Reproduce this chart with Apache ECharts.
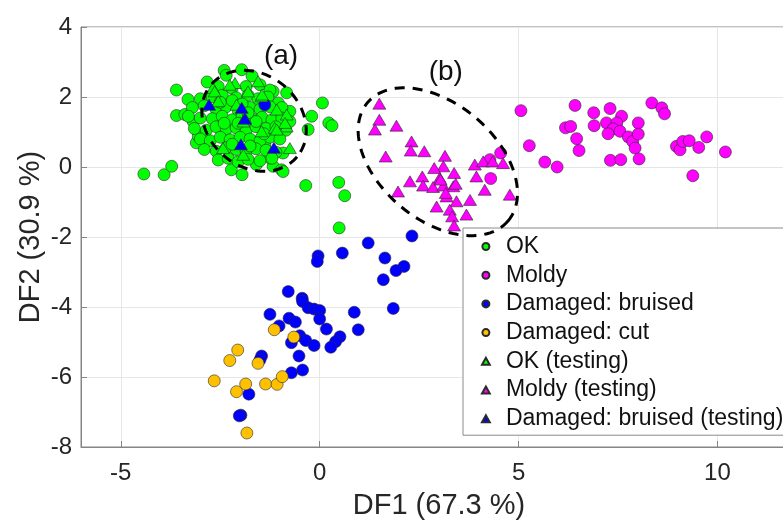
<!DOCTYPE html>
<html>
<head>
<meta charset="utf-8">
<script src="https://cdn.jsdelivr.net/npm/echarts@6/dist/echarts.min.js"></script>
<style>
  html, body { margin: 0; padding: 0; overflow: hidden; background: #fff; }
  #chart { width: 840px; height: 525px; }
</style>
</head>
<body>
<div id="chart"></div>
<script>
// Discriminant scores [DF1, DF2] per class
const okTrain = [
  [-4.42,-0.20],[-3.91,-0.22],[-3.72,0.02],[-3.60,2.20],[-3.60,1.47],[-3.31,1.93],[-3.39,1.50],
  [-3.18,1.30],[-3.10,0.69],[-3.05,0.88],[-2.83,2.43],[-2.40,2.76],[-1.96,2.78],[-2.22,-0.08],
  [-1.95,-0.22],[-1.17,0.02],[-0.96,-0.08],[-1.17,2.16],[-1.04,1.83],[-0.83,2.12],[-0.75,1.59],
  [-0.92,0.40],[-1.38,0.64],[-1.59,0.07],[-1.25,0.26],[-0.92,-0.13],[-0.29,1.07],[-0.20,1.45],
  [0.07,1.83],[0.23,1.26],[0.31,1.18],[-0.35,-0.53],[0.48,-0.44],[0.63,-0.82],[0.49,-1.74],
  [-2.35,2.62],[-1.70,2.60],[-2.55,2.30],[-2.20,2.25],[-1.85,2.30],[-1.50,2.35],[-1.25,2.20],
  [-3.00,1.95],[-2.70,2.00],[-2.45,2.05],[-2.10,1.98],[-1.80,2.05],[-1.55,1.95],[-1.30,2.00],
  [-3.20,1.70],[-2.90,1.75],[-2.60,1.65],[-2.35,1.72],[-2.05,1.62],[-1.75,1.70],[-1.50,1.65],
  [-1.25,1.72],[-0.95,1.70],[-3.30,1.45],[-3.00,1.40],[-2.70,1.38],[-2.45,1.45],[-2.20,1.35],
  [-1.95,1.45],[-1.70,1.38],[-1.45,1.42],[-1.20,1.35],[-0.95,1.40],[-0.75,1.30],[-3.15,1.10],
  [-2.85,1.05],[-2.60,1.15],[-2.35,1.08],[-2.10,1.12],[-1.85,1.05],[-1.60,1.15],[-1.35,1.10],
  [-1.10,1.15],[-0.85,1.05],[-3.00,0.80],[-2.75,0.75],[-2.50,0.85],[-2.25,0.78],[-2.00,0.85],
  [-1.75,0.80],[-1.50,0.75],[-1.25,0.85],[-1.00,0.80],[-2.90,0.50],[-2.60,0.45],[-2.35,0.55],
  [-2.10,0.50],[-1.85,0.45],[-1.60,0.52],[-1.35,0.48],[-1.10,0.42],[-2.55,0.20],[-2.30,0.25],
  [-2.05,0.15],[-1.80,0.22],[-1.50,0.18],[-1.20,0.25],[-2.20,1.90],[-1.95,1.80],[-2.40,1.25],
  [-1.60,1.30],[-2.20,0.65],[-1.75,0.60],[-1.40,0.95],[-2.05,1.25],[-1.80,1.55],[-2.50,1.85]
];
const moldyTrain = [
  [4.28,0.21],[4.55,0.40],[4.30,-0.33],[5.06,1.61],[5.27,0.61],[5.66,0.14],[5.97,0.00],
  [6.42,1.76],[6.18,1.12],[6.31,1.16],[6.46,0.81],[6.52,0.47],[6.89,1.55],[6.90,1.18],
  [7.30,1.67],[7.59,1.45],[7.21,1.26],[7.47,1.26],[7.38,1.09],[7.25,0.95],[7.55,1.02],
  [7.76,0.86],[7.87,0.73],[7.93,0.54],[8.01,1.26],[8.01,0.94],[7.31,0.19],[7.57,0.21],
  [8.03,0.23],[8.35,1.83],[8.60,1.69],[8.67,1.52],[8.97,0.59],[9.06,0.49],[9.13,0.73],
  [9.29,0.75],[9.53,0.56],[9.73,0.86],[10.20,0.43],[9.38,-0.25]
];
const bruisedTrain = [
  [-1.38,1.78],[2.32,-1.97],[1.22,-2.17],[0.57,-2.46],[-0.04,-2.54],[-0.06,-2.70],[1.64,-2.60],
  [2.12,-2.84],[1.92,-2.96],[1.60,-3.22],[-0.79,-3.56],[-0.44,-3.75],[-0.43,-3.84],[-0.29,-4.02],
  [-0.14,-4.06],[0.00,-4.10],[-1.25,-4.21],[0.87,-4.15],[1.85,-4.04],[-0.77,-4.32],[-0.61,-4.43],
  [0.00,-4.34],[0.17,-4.63],[-1.02,-4.54],[0.97,-4.65],[0.51,-4.85],[0.40,-4.99],[0.28,-5.15],
  [-0.50,-4.82],[-0.35,-4.96],[-0.14,-5.10],[-0.71,-5.02],[-0.52,-5.40],[-1.46,-5.40],[-1.50,-5.51],
  [-0.71,-5.88],[-0.43,-5.80],[-1.78,-6.49],[-1.98,-7.09],[-2.02,-7.11]
];
const cutTrain = [
  [-1.14,-4.65],[-0.65,-4.86],[-2.06,-5.23],[-2.26,-5.53],[-1.55,-5.61],[-2.65,-6.11],
  [-1.86,-6.20],[-2.09,-6.42],[-1.36,-6.20],[-1.07,-6.21],[-0.94,-5.99],[-1.83,-7.60]
];
const okTest = [
  [-2.68,2.26],[-2.13,2.40],[-1.55,2.45],[-1.08,1.64],[-0.83,1.50],[-1.13,1.12],[-0.83,1.16],
  [-1.92,0.35],[-1.88,1.40],[-0.75,0.54],[-1.46,2.02],[-2.09,1.78],[-1.80,2.16],[-2.26,2.35],
  [-2.64,2.16],[-2.55,1.88],[-1.92,1.30],[-1.45,2.07],[-0.87,1.26],[-2.43,0.54],[-1.08,1.07],
  [-1.46,1.02]
];
const moldyTest = [
  [1.50,1.81],[1.50,1.35],[1.39,1.07],[1.93,1.18],[2.31,0.73],[2.29,0.47],[2.63,0.45],
  [1.66,0.30],[3.15,0.32],[3.11,0.02],[2.88,-0.03],[3.38,-0.17],[3.90,0.07],[4.11,0.16],
  [4.35,0.16],[4.61,0.11],[3.94,-0.27],[2.58,-0.27],[3.02,-0.31],[2.27,-0.41],[2.60,-0.53],
  [2.85,-0.57],[3.11,-0.53],[3.36,-0.55],[3.42,-0.48],[1.97,-0.70],[4.15,-0.65],[4.78,-0.79],
  [3.19,-0.84],[3.44,-0.98],[3.78,-0.94],[2.94,-1.13],[3.27,-1.22],[3.69,-1.36],[3.33,-1.41],
  [3.38,-1.67],[3.04,-0.36],[3.17,-0.74]
];
const bruisedTest = [
  [-2.78,1.78],[-1.96,1.69],[-1.88,1.38],[-1.98,0.65],[-1.15,0.55]
];

// Group outlines: centre (DF1, DF2), semi-axes in DF1 units, tilt in degrees, tag text and its anchor
const outlineCentres = [[-1.65, 1.32], [2.97, 0.15]];
const outlineAxes = [[1.41, 1.16], [2.31, 1.46]];
const outlineTilt = [40, 40];
const outlineTags = ['(a)', '(b)'];
const outlineTagAt = [[-0.97, 3.15], [3.17, 2.70]];

const xTicks = [-5, 0, 5, 10];

const FONT = '"Liberation Sans", Arial, Helvetica, sans-serif';
const edge = { borderColor: '#2a2a2a', borderWidth: 0.6 };
// upward triangle as a path so the legend keeps its proportions
const TRIANGLE_ICON = 'path://M0,9 L5,0 L10,9 Z';

function scatter(name, data, symbol, color) {
  return {
    name, type: 'scatter', data, symbol,
    symbolSize: symbol === 'triangle' ? [13, 11] : 12,
    itemStyle: Object.assign({ color, opacity: 1 }, edge),
    emphasis: { disabled: true },
    z: symbol === 'triangle' ? 3 : 2
  };
}

const outlineData = outlineCentres.map((c, i) => [c[0], c[1], outlineAxes[i][0], outlineAxes[i][1], outlineTilt[i], i]);

const legendNames = ['OK', 'Moldy', 'Damaged: bruised', 'Damaged: cut', 'OK (testing)', 'Moldy (testing)', 'Damaged: bruised (testing)'];
const legendIcons = ['circle', 'circle', 'circle', 'circle', TRIANGLE_ICON, TRIANGLE_ICON, TRIANGLE_ICON];

const chart = echarts.init(document.getElementById('chart'), null, { renderer: 'canvas' });
chart.setOption({
  animation: false,
  backgroundColor: '#ffffff',
  grid: { left: 81, right: 43, top: 27, bottom: 78, show: true, borderColor: '#858585', borderWidth: 1 },
  xAxis: {
    type: 'value', min: -6, max: 12,
    name: 'DF1 (67.3 %)', nameLocation: 'middle', nameGap: 44, nameMoveOverlap: false,
    nameTextStyle: { fontSize: 29, color: '#262626', fontFamily: FONT },
    axisLine: { show: true, onZero: false, lineStyle: { color: '#858585' } },
    axisTick: { show: true, inside: true, length: 6, customValues: xTicks, lineStyle: { color: '#858585' } },
    axisLabel: { customValues: xTicks, fontSize: 24, color: '#262626', fontFamily: FONT, margin: 14 },
    splitLine: { show: true, lineStyle: { color: '#e6e6e6' } }
  },
  yAxis: {
    type: 'value', min: -8, max: 4, interval: 2,
    name: 'DF2 (30.9 %)', nameLocation: 'middle', nameGap: 36, nameMoveOverlap: false,
    nameTextStyle: { fontSize: 29, color: '#262626', fontFamily: FONT },
    axisLine: { show: true, onZero: false, lineStyle: { color: '#858585' } },
    axisTick: { show: true, inside: true, length: 6, lineStyle: { color: '#858585' } },
    axisLabel: { fontSize: 24, color: '#262626', fontFamily: FONT, margin: 9 },
    splitLine: { show: true, lineStyle: { color: '#e6e6e6' } }
  },
  legend: {
    orient: 'vertical', left: 463, top: 228,
    data: legendNames.map((n, i) => ({ name: n, icon: legendIcons[i] })),
    itemWidth: 30, itemHeight: 7, itemGap: 5.7,
    symbolKeepAspect: true,
    padding: [7, 10, 5, 18],
    backgroundColor: '#ffffff', borderColor: '#8a8a8a', borderWidth: 1, borderRadius: 0,
    textStyle: { fontSize: 23, color: '#111', fontFamily: FONT, lineHeight: 23 },
    selectedMode: false
  },
  series: [
    scatter('OK', okTrain, 'circle', '#00ff00'),
    scatter('Moldy', moldyTrain, 'circle', '#ff00ff'),
    scatter('Damaged: bruised', bruisedTrain, 'circle', '#0000ff'),
    scatter('Damaged: cut', cutTrain, 'circle', '#ffc000'),
    scatter('OK (testing)', okTest, 'triangle', '#00ff00'),
    scatter('Moldy (testing)', moldyTest, 'triangle', '#ff00ff'),
    scatter('Damaged: bruised (testing)', bruisedTest, 'triangle', '#0000ff'),
    {
      type: 'custom', z: 10, silent: true,
      data: outlineData,
      renderItem: function (params, api) {
        const c = api.coord([api.value(0), api.value(1)]);
        const unit = api.size([1, 1])[0];
        const a = api.value(2) * unit, b = api.value(3) * unit;
        const t = api.value(4) * Math.PI / 180;
        const idx = api.value(5);
        const pts = [];
        for (let k = 0; k <= 120; k++) {
          const s = k / 120 * Math.PI * 2;
          const u = a * Math.cos(s), v = b * Math.sin(s);
          pts.push([c[0] + u * Math.cos(t) - v * Math.sin(t), c[1] + u * Math.sin(t) + v * Math.cos(t)]);
        }
        const tagPos = api.coord(outlineTagAt[idx]);
        return {
          type: 'group',
          children: [
            { type: 'polyline', shape: { points: pts },
              style: { stroke: '#000', lineWidth: 3, lineDash: [10, 8], fill: null } },
            { type: 'text', x: tagPos[0], y: tagPos[1],
              style: { text: outlineTags[idx], fontSize: 28, fontFamily: FONT, fill: '#111',
                       align: 'center', verticalAlign: 'middle' } }
          ]
        };
      }
    }
  ]
});
</script>
</body>
</html>
